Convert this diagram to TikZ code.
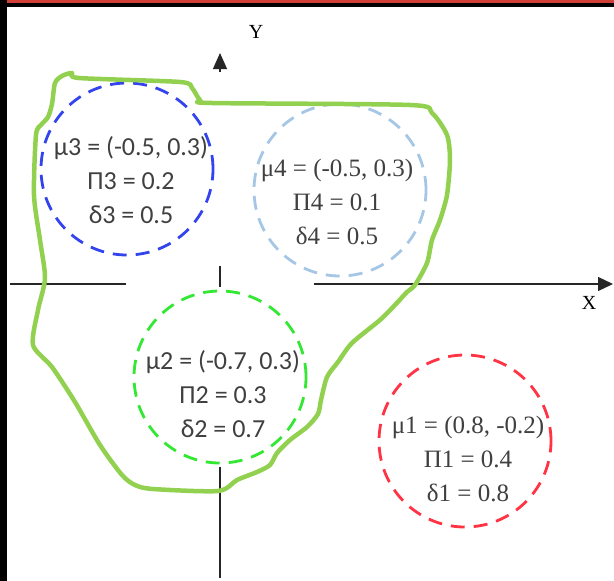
\documentclass[tikz,border=0pt]{standalone}
\usepackage{fontspec}
\setmainfont{Liberation Serif}
\newfontfamily\calfont{Carlito}
\newfontfamily\serfont{Liberation Serif}
\usetikzlibrary{arrows.meta}
\definecolor{framered}{HTML}{D04038}
\definecolor{blobgreen}{HTML}{92D050}
\definecolor{cblue}{HTML}{3344EE}
\definecolor{clight}{HTML}{A6C6E6}
\definecolor{cgreen}{HTML}{33E833}
\definecolor{cred}{HTML}{FF3344}
\definecolor{txtgray}{HTML}{404040}
\tikzset{
  axisline/.style={line width=1.3pt, black!85},
  circ/.style={circle, minimum size=172pt, inner sep=0pt, line width=2.8pt, dash pattern=on 14pt off 9pt},
  caltext/.style={align=center, text=txtgray, font=\calfont\fontsize{26}{34}\selectfont},
  sertext/.style={align=center, text=txtgray, font=\serfont\fontsize{25}{34}\selectfont},
  axlabel/.style={font=\serfont\fontsize{20}{24}\selectfont, text=black}
}
\begin{document}
\begin{tikzpicture}[x=1pt,y=-1pt]
\useasboundingbox (0,0) rectangle (614,581);
\fill[white] (0,0) rectangle (614,581);
% frame
\fill[black] (0,0) rectangle (614,7);
\fill[framered] (0,0) rectangle (614,2.5);
\fill[black] (0,0) rectangle (7,581);
% axes
\coordinate (xl1) at (10,284);
\coordinate (xl2) at (126,284);
\coordinate (xr) at (314,284);
\coordinate (xtip) at (613,284);
\coordinate (yt1) at (220,266);
\coordinate (yt2) at (220,287);
\coordinate (yb1) at (220,467);
\coordinate (yb2) at (220,578);
\coordinate (ybase) at (220,72);
\coordinate (ytip) at (220,53);
\draw[axisline] (xl1) -- (xl2);
\draw[axisline, -{Triangle[length=15pt,width=14pt]}] (xr) -- (xtip);
\draw[axisline] (yt1) -- (yt2);
\draw[axisline] (yb1) -- (yb2);
\draw[axisline, -{Triangle[length=16pt,width=14pt]}] (ybase) -- (ytip);
\node[axlabel] (ylab) at (256,32) {Y};
\node[axlabel] (xlab) at (589,303) {X};
% circles
\node[circ, draw=cblue] (c3) at (127,169) {};
\node[circ, draw=clight] (c4) at (340,190) {};
\node[circ, draw=cgreen] (c2) at (220,377) {};
\node[circ, draw=cred] (c1) at (465,441) {};
% blob
\draw[blobgreen, line width=4.5pt, line join=round]
  plot[smooth cycle, tension=0.45] coordinates {
  (45,278) (40,240) (34,195) (36,135) (41,125) (48,117) (52,104) (55,83)
  (62,76) (72,73) (79,78) (180,82) (192,88) (200,100) (212,103) (410,105)
  (432,113) (447,135) (450,160) (447,195) (440,220) (432,240) (427,263)
  (415,285) (407,292) (395,305) (380,320) (352,343) (338,362) (327,377)
  (321,400) (318,414) (307,427) (290,440) (277,453) (270,465) (257,472)
  (237,480) (218,491) (153,489) (135,485) (122,475) (100,445) (75,402)
  (52,367) (33,345) (38,310)};
% texts
\node[caltext] (t3) at (131,180) {μ3 = (-0.5, 0.3)\\Π3 = 0.2\\δ3 = 0.5};
\node[sertext] (t4) at (337,202) {μ4 = (-0.5, 0.3)\\Π4 = 0.1\\δ4 = 0.5};
\node[caltext] (t2) at (223,394) {μ2 = (-0.7, 0.3)\\Π2 = 0.3\\δ2 = 0.7};
\node[sertext] (t1) at (468,459) {μ1 = (0.8, -0.2)\\Π1 = 0.4\\δ1 = 0.8};
\end{tikzpicture}
\end{document}
